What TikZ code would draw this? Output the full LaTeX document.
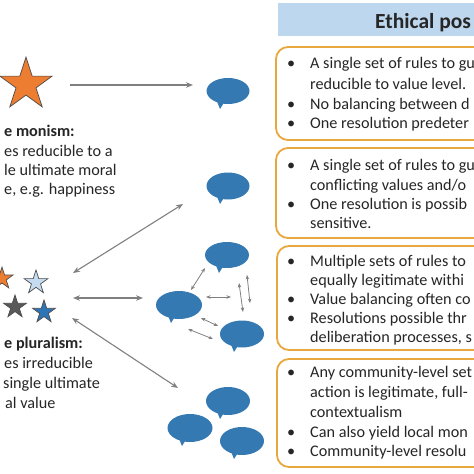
\documentclass[tikz,border=0pt]{standalone}
\usepackage{fontspec}
\setmainfont{Carlito}
\usetikzlibrary{shapes.geometric,arrows.meta}
\definecolor{bub}{RGB}{52,121,178}
\definecolor{hdr}{RGB}{189,215,238}
\definecolor{framec}{RGB}{232,168,62}
\definecolor{arr}{RGB}{128,128,128}
\definecolor{sorange}{RGB}{237,125,49}
\definecolor{slight}{RGB}{197,220,240}
\definecolor{sgray}{RGB}{89,89,89}
\definecolor{sblue}{RGB}{46,117,182}
\definecolor{txt}{RGB}{38,38,38}
\newcommand{\speech}[4]{%
  \node[bubble, minimum width=#3pt, minimum height=#4pt] (#1) at (#2) {};
  \fill[bub] (#1.center) ++(-12,8) -- ++(4,10) -- ++(5,-8) -- cycle;}
\begin{document}
\begin{tikzpicture}[x=1pt,y=-1pt,
  bubble/.style={ellipse, fill=bub, inner sep=0pt, outer sep=0pt},
  starnode/.style={star, star points=5, star point ratio=2.618, inner sep=0pt, draw=black!70, line width=0.7pt},
  onearrow/.style={draw=arr, line width=1.1pt, -{Stealth[length=7pt,width=5.5pt]}},
  twoarrow/.style={draw=arr, line width=1.1pt, {Stealth[length=7pt,width=5.5pt]}-{Stealth[length=7pt,width=5.5pt]}},
  smallarrow/.style={draw=arr, line width=0.8pt, {Stealth[length=4.5pt,width=3.5pt]}-{Stealth[length=4.5pt,width=3.5pt]}},
  framebox/.style={draw=framec, line width=1.8pt, rounded corners=12pt},
  body/.style={anchor=base west, inner sep=0pt, text=txt, font=\fontsize{16.2}{19.5}\selectfont},
  bodyb/.style={body, font=\fontsize{16.2}{19.5}\selectfont\bfseries},
  head/.style={anchor=base west, inner sep=0pt, text=txt, font=\fontsize{21.5}{24}\selectfont\bfseries}
]
\useasboundingbox (0,0) rectangle (474,474);
\clip (0,0) rectangle (474,474);
\fill[white] (0,0) rectangle (474,474);

% header
\fill[hdr] (278,3) rectangle (480,36);
\node[head] (h) at (375,28) {Ethical pos};

% frames
\draw[framebox] (276,47) rectangle (500,140);
\draw[framebox] (276,148) rectangle (500,238);
\draw[framebox] (277,246) rectangle (500,350);
\draw[framebox] (277,359) rectangle (500,467);

% box 1 text
\node[body] (b1a) at (287,68) {•};
\node[body] (b1b) at (310,68) {A single set of rules to gu};
\node[body] (b1c) at (310,89) {reducible to value level.};
\node[body] (b1d) at (287,109) {•};
\node[body] (b1e) at (310,109) {No balancing between d};
\node[body] (b1f) at (287,128) {•};
\node[body] (b1g) at (310,128) {One resolution predeter};

% box 2 text
\node[body] (b2a) at (287,170) {•};
\node[body] (b2b) at (310,170) {A single set of rules to gu};
\node[body] (b2c) at (310,190) {conflicting values and/o};
\node[body] (b2d) at (287,209) {•};
\node[body] (b2e) at (310,209) {One resolution is possib};
\node[body] (b2f) at (310,228) {sensitive.};

% box 3 text
\node[body] (b3a) at (287,266) {•};
\node[body] (b3b) at (310,266) {Multiple sets of rules to};
\node[body] (b3c) at (310,285) {equally legitimate withi};
\node[body] (b3d) at (287,304) {•};
\node[body] (b3e) at (310,304) {Value balancing often co};
\node[body] (b3f) at (287,323) {•};
\node[body] (b3g) at (310,323) {Resolutions possible thr};
\node[body] (b3h) at (310,342) {deliberation processes, s};

% box 4 text
\node[body] (b4a) at (287,377) {•};
\node[body] (b4b) at (310,377) {Any community-level set};
\node[body] (b4c) at (310,397) {action is legitimate, full-};
\node[body] (b4d) at (310,417) {contextualism};
\node[body] (b4e) at (287,437) {•};
\node[body] (b4f) at (310,437) {Can also yield local mon};
\node[body] (b4g) at (287,456) {•};
\node[body] (b4h) at (310,456) {Community-level resolu};

% left texts
\node[bodyb] (m1) at (4,136) {e monism:};
\node[body] (m2) at (4,156) {es reducible to a};
\node[body] (m3) at (4,175) {le ultimate moral};
\node[body] (m4) at (4,194) {e, e.g. happiness};
\node[bodyb] (p1) at (4,348) {e pluralism:};
\node[body] (p2) at (4,368) {es irreducible};
\node[body] (p3) at (3,388) {single ultimate};
\node[body] (p4) at (5,408) {al value};

% stars
\node[starnode, fill=sorange, minimum size=55pt] (bigstar) at (26,84.6) {};
\node[starnode, fill=sorange, minimum size=23pt] (s1) at (2,278.6) {};
\node[starnode, fill=slight, minimum size=25pt] (s2) at (36,282.5) {};
\node[starnode, fill=sgray, minimum size=24pt] (s3) at (15,307) {};
\node[starnode, fill=sblue, minimum size=24pt] (s4) at (44,312) {};

% bubbles
\speech{u1}{228,91}{43}{26}
\speech{u2}{228,186}{43}{27}
\speech{c1}{227,255}{44}{26}
\speech{c2}{179,305}{46}{28}
\speech{c3}{242,334}{44}{27}
\speech{d1}{228,401}{44}{28}
\speech{d2}{190,428}{45}{28}
\speech{d3}{242,441}{44}{28}

% arrow end points
\coordinate (a1s) at (70,85);   \coordinate (a1e) at (193,85);
\coordinate (a2s) at (73,273);  \coordinate (a2e) at (183,204);
\coordinate (a3s) at (73,298);  \coordinate (a3e) at (143,298);
\coordinate (a4s) at (72,318);  \coordinate (a4e) at (178,388);
\draw[onearrow] (a1s) -- (a1e);
\draw[twoarrow] (a2s) -- (a2e);
\draw[twoarrow] (a3s) -- (a3e);
\draw[twoarrow] (a4s) -- (a4e);

% small arrows in the cluster
\coordinate (k1s) at (191,290); \coordinate (k1e) at (205,268);
\coordinate (k2s) at (206,297); \coordinate (k2e) at (231,297);
\coordinate (k3s) at (239,283); \coordinate (k3e) at (243,312);
\coordinate (k4s) at (247,275); \coordinate (k4e) at (250,303);
\coordinate (k5s) at (201,318); \coordinate (k5e) at (218,326);
\coordinate (k6s) at (188,329); \coordinate (k6e) at (213,339);
\draw[smallarrow] (k1s) -- (k1e);
\draw[smallarrow] (k2s) -- (k2e);
\draw[smallarrow] (k3s) -- (k3e);
\draw[smallarrow] (k4s) -- (k4e);
\draw[smallarrow] (k5s) -- (k5e);
\draw[smallarrow] (k6s) -- (k6e);
\end{tikzpicture}
\end{document}
